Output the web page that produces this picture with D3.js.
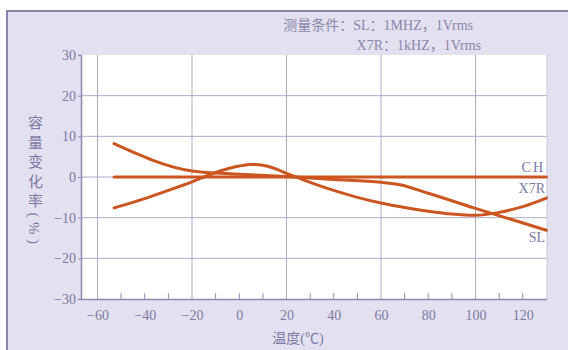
<!DOCTYPE html>
<html>
<head>
<meta charset="utf-8">
<style>
  body { margin: 0; background: #fff; }
  text { font-family: "Liberation Serif", "Noto Sans CJK SC", serif; }
</style>
<script src="https://d3js.org/d3.v7.min.js"></script>
</head>
<body>
<svg width="568" height="350"></svg>
<script>
// data
const tempTicks = [-60, -40, -20, 0, 20, 40, 60, 80, 100, 120];
const tempGrid = [-60, -20, 20, 60, 100];
const tempMinor = [-50, -40, -30, -10, 0, 10, 30, 40, 50, 70, 80, 90, 110, 120];
const rateTicks = [30, 20, 10, 0, -10, -20, -30];
const rateGrid = [20, 10, 0, -10, -20];

const chTemp = [-53, 130];
const chRate = [0, 0];

const x7rTemp = [-53, -40, -30, -20, -10, 0, 5, 10, 15, 20, 25, 30, 40, 50, 60, 70, 80, 90, 100, 110, 120, 130];
const x7rRate = [-7.6, -5.3, -3.3, -1.2, 1.1, 2.7, 3.1, 2.9, 2.1, 0.9, -0.2, -1.3, -3.3, -5.0, -6.4, -7.5, -8.4, -9.1, -9.4, -8.7, -7.3, -5.2];

const slTemp = [-53, -20, 0, 20, 40, 60, 68, 80, 100, 115, 130];
const slRate = [8.2, 1.5, 0.7, 0.1, -0.6, -1.3, -1.9, -4.0, -7.7, -10.4, -13.1];

const seriesNames = ["CH", "X7R", "SL"];
const header = ["测量条件：SL：1MHZ，1Vrms", "X7R：1kHZ，1Vrms"];

const svg = d3.select("svg");
const plotLeft = 81, plotRight = 547, plotTop = 55, plotBottom = 299;
const lineColor = "#cc5620", gridColor = "#aeabc8", textColor = "#7c79a2";

// frame
svg.append("rect").attr("x", 7).attr("y", 11).attr("width", 570).attr("height", 350)
  .attr("fill", "#e3e1f0").attr("stroke", "#8784ab").attr("stroke-width", 2);

const x = d3.scaleLinear().domain([-60, 100]).range([97.5, 475.5]);
const y = d3.scaleLinear().domain([-30, 30]).range([plotBottom, plotTop]);

svg.append("rect").attr("x", plotLeft).attr("y", plotTop)
  .attr("width", plotRight - plotLeft).attr("height", plotBottom - plotTop).attr("fill", "#fff");

// grid
svg.append("g").selectAll("line").data(tempGrid).join("line")
  .attr("x1", d => x(d)).attr("x2", d => x(d)).attr("y1", plotTop).attr("y2", plotBottom)
  .attr("stroke", gridColor).attr("stroke-width", 1);
svg.append("g").selectAll("line").data(rateGrid).join("line")
  .attr("x1", plotLeft).attr("x2", plotRight).attr("y1", d => y(d)).attr("y2", d => y(d))
  .attr("stroke", gridColor).attr("stroke-width", 1);

// minor ticks on the bottom edge, pointing inward
svg.append("g").selectAll("line").data(tempMinor).join("line")
  .attr("x1", d => x(d)).attr("x2", d => x(d)).attr("y1", plotBottom).attr("y2", plotBottom - 6)
  .attr("stroke", "#8e8bb0");

// axes
const yAxis = svg.append("g").attr("transform", `translate(${plotLeft},0)`)
  .call(d3.axisLeft(y).tickValues(rateTicks).tickSize(3).tickPadding(2)
    .tickFormat(d => d < 0 ? "\u2212" + Math.abs(d) : d));
yAxis.select(".domain").attr("stroke", "#8e8bb0").attr("stroke-width", 1.5);
yAxis.selectAll(".tick line").attr("stroke", "#8e8bb0");
yAxis.selectAll(".tick text").attr("fill", textColor).attr("font-size", 14)
  .attr("font-family", "Liberation Serif");

const xAxis = svg.append("g").attr("transform", `translate(0,${plotBottom})`)
  .call(d3.axisBottom(x).tickValues(tempTicks).tickSize(0).tickPadding(11)
    .tickFormat(d => d < 0 ? "\u2212" + Math.abs(d) : d));
xAxis.select(".domain").attr("d", `M${plotLeft},0.5H${plotRight}`)
  .attr("stroke", "#8e8bb0").attr("stroke-width", 1.5);
xAxis.selectAll(".tick text").attr("fill", textColor).attr("font-size", 14)
  .attr("font-family", "Liberation Serif");

// right edge of plot
svg.append("line").attr("x1", plotRight).attr("x2", plotRight).attr("y1", plotTop).attr("y2", plotBottom)
  .attr("stroke", "#c9c7dc");

// curves
const line = d3.line().x(d => x(d[0])).y(d => y(d[1]));
const series = [
  { temp: chTemp, rate: chRate, curve: d3.curveLinear },
  { temp: x7rTemp, rate: x7rRate, curve: d3.curveMonotoneX },
  { temp: slTemp, rate: slRate, curve: d3.curveMonotoneX }
];
series.forEach(s => {
  svg.append("path")
    .attr("d", line.curve(s.curve)(d3.zip(s.temp, s.rate)))
    .attr("fill", "none").attr("stroke", lineColor).attr("stroke-width", 3)
    .attr("stroke-linecap", "round");
});

// series labels at right
const labelY = [172, 193, 242];
svg.append("g").selectAll("text").data(seriesNames).join("text")
  .attr("x", 545).attr("y", (d, i) => labelY[i])
  .attr("text-anchor", "end").attr("font-size", 14).attr("fill", textColor)
  .attr("letter-spacing", (d, i) => i === 0 ? 2 : 0)
  .text(d => d);

// header
svg.append("text").attr("x", 473).attr("y", 30).attr("text-anchor", "end")
  .attr("font-size", 14).attr("fill", "#8a87a9").text(header[0]);
svg.append("text").attr("x", 481).attr("y", 50).attr("text-anchor", "end")
  .attr("font-size", 14).attr("fill", "#8a87a9").text(header[1]);

// axis titles
svg.append("text").attr("x", 298).attr("y", 343).attr("text-anchor", "middle")
  .attr("font-size", 14).attr("fill", textColor).text("温度(℃)");
svg.append("text").attr("x", 34).attr("y", 115)
  .style("writing-mode", "vertical-rl").attr("font-size", 15)
  .attr("letter-spacing", 4.5).attr("fill", textColor).text("容量变化率(%)");
</script>
</body>
</html>
